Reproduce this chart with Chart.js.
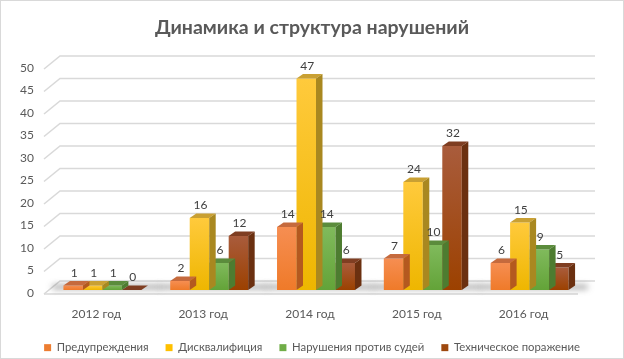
<!DOCTYPE html>
<html><head><meta charset="utf-8">
<script src="https://cdn.jsdelivr.net/npm/chart.js@4"></script>
<style>html,body{margin:0;padding:0;background:#fff}</style>
</head><body>
<canvas id="c" width="624" height="359" style="width:624px;height:359px;display:block"></canvas>
<script>
const titleText = 'Динамика и структура нарушений';
const categories = ['2012 год', '2013 год', '2014 год', '2015 год', '2016 год'];
const seriesNames = ['Предупреждения', 'Дисквалифиция', 'Нарушения против судей', 'Техническое поражение'];
const warnings = [1, 2, 14, 7, 6];
const disqualifications = [1, 16, 47, 24, 15];
const refereeViolations = [1, 6, 14, 10, 9];
const technicalDefeats = [0, 12, 6, 32, 5];
const yMin = 0, yMax = 50, yStep = 5;

const seriesColors = ['#ED7D31', '#FFC000', '#70AD47', '#9E480E'];
const frontTop = ['#f68e52', '#ffca3c', '#80ba5c', '#a95c3c'];
const frontBottom = ['#ef7a29', '#eeb600', '#63a338', '#9c4100'];
const topFaceColors = ['#c56a3d', '#c9a033', '#5b8c3c', '#7f3e22'];
const sideFaceColors = ['#b4591f', '#a98820', '#4d7c30', '#6b3010'];
const DX = 6.5, DY = -4.5;
const FONT = 'Lato';

const seriesData = [warnings, disqualifications, refereeViolations, technicalDefeats];

function frontFill(i) {
  return function (ctx) {
    const chart = ctx.chart;
    const ys = chart.scales.y;
    if (!ys || ctx.dataIndex === undefined) return seriesColors[i];
    const top = ys.getPixelForValue(ctx.raw);
    const base = ys.getPixelForValue(0);
    const g = chart.ctx.createLinearGradient(0, top, 0, Math.max(base, top + 1));
    g.addColorStop(0, frontTop[i]);
    g.addColorStop(1, frontBottom[i]);
    return g;
  };
}

const threeD = {
  id: 'threeD',
  beforeDraw(chart) {
    const c = chart.ctx;
    c.save();
    c.fillStyle = '#fff';
    c.fillRect(0, 0, chart.width, chart.height);
    c.strokeStyle = '#d9d9d9';
    c.lineWidth = 1;
    c.strokeRect(0.5, 0.5, chart.width - 1, chart.height - 1);
    c.restore();
  },
  beforeDatasetsDraw(chart) {
    const { ctx, chartArea: a, scales: { x, y } } = chart;
    ctx.save();
    ctx.strokeStyle = '#d9d9d9';
    ctx.lineWidth = 1.5;
    y.ticks.forEach(t => {
      const py = y.getPixelForValue(t.value);
      ctx.beginPath();
      ctx.moveTo(a.left - 5, py + 4);
      ctx.lineTo(a.left + 11, py - 9);
      ctx.lineTo(a.right + 12, py - 9);
      ctx.stroke();
    });
    const p0 = y.getPixelForValue(0);
    ctx.beginPath();
    ctx.moveTo(a.left - 5, p0 + 4);
    ctx.lineTo(a.right - 5, p0 + 4);
    ctx.stroke();
    // floor shadows
    ctx.filter = 'blur(3px)';
    ctx.fillStyle = 'rgba(70,70,70,0.55)';
    categories.forEach((c, i) => {
      const cx = x.getPixelForValue(i);
      ctx.fillRect(cx - 50, p0 - 5, 108, 4);
    });
    ctx.filter = 'none';
    ctx.restore();
  },
  afterDatasetDraw(chart, args) {
    const ctx = chart.ctx;
    const i = args.index;
    ctx.save();
    args.meta.data.forEach(bar => {
      const { x, y, base, width } = bar.getProps(['x', 'y', 'base', 'width'], true);
      const l = x - width / 2, r = x + width / 2;
      ctx.fillStyle = topFaceColors[i];
      ctx.beginPath();
      ctx.moveTo(l, y); ctx.lineTo(l + DX, y + DY); ctx.lineTo(r + DX, y + DY); ctx.lineTo(r, y);
      ctx.closePath(); ctx.fill();
      ctx.fillStyle = sideFaceColors[i];
      ctx.beginPath();
      ctx.moveTo(r, y); ctx.lineTo(r + DX, y + DY); ctx.lineTo(r + DX, base + DY); ctx.lineTo(r, base);
      ctx.closePath(); ctx.fill();
    });
    ctx.restore();
  },
  afterDatasetsDraw(chart) {
    const ctx = chart.ctx;
    ctx.save();
    ctx.font = '12px ' + FONT;
    ctx.fillStyle = '#404040';
    ctx.textAlign = 'center';
    ctx.textBaseline = 'middle';
    chart.data.datasets.forEach((ds, di) => {
      chart.getDatasetMeta(di).data.forEach((bar, j) => {
        const { x, y } = bar.getProps(['x', 'y'], true);
        ctx.fillText(String(ds.data[j]), x + 1, y - 12.5);
      });
    });
    ctx.restore();
  }
};

new Chart(document.getElementById('c'), {
  type: 'bar',
  data: {
    labels: categories,
    datasets: seriesNames.map((name, i) => ({
      label: name,
      data: seriesData[i],
      backgroundColor: frontFill(i),
      borderWidth: 0,
      barPercentage: 1.0,
      categoryPercentage: 0.73
    }))
  },
  options: {
    responsive: false,
    animation: false,
    devicePixelRatio: 1,
    layout: { padding: 0 },
    plugins: {
      title: {
        display: true,
        text: titleText,
        color: '#595959',
        font: { family: FONT, size: 19.5, weight: 'bold' },
        padding: { top: 16, bottom: 25.6 }
      },
      legend: {
        position: 'bottom',
        maxHeight: 34,
        labels: {
          boxWidth: 7,
          boxHeight: 7,
          padding: 17,
          color: '#595959',
          font: { family: FONT, size: 11.3 },
          generateLabels(chart) {
            return seriesNames.map((n, i) => ({
              text: n, fillStyle: seriesColors[i], strokeStyle: seriesColors[i],
              lineWidth: 0, datasetIndex: i, hidden: false, fontColor: '#595959'
            }));
          }
        }
      },
      tooltip: { enabled: false }
    },
    scales: {
      x: {
        grid: { display: false, drawTicks: false },
        border: { display: false },
        ticks: { color: '#595959', font: { family: FONT, size: 12 }, padding: 17, labelOffset: -6 },
        afterFit(s) { s.height = 35; }
      },
      y: {
        min: yMin, max: yMax,
        grid: { display: false, drawTicks: false },
        border: { display: false },
        ticks: { stepSize: yStep, color: '#595959', font: { family: FONT, size: 12 }, padding: 15, labelOffset: 3 },
        afterFit(s) { s.width = 49; }
      },
      yRight: {
        type: 'linear',
        position: 'right',
        display: true,
        min: yMin, max: yMax,
        grid: { display: false, drawTicks: false },
        border: { display: false },
        ticks: { display: false },
        afterFit(s) { s.width = 41; }
      }
    }
  },
  plugins: [threeD]
});
</script>
</body></html>
